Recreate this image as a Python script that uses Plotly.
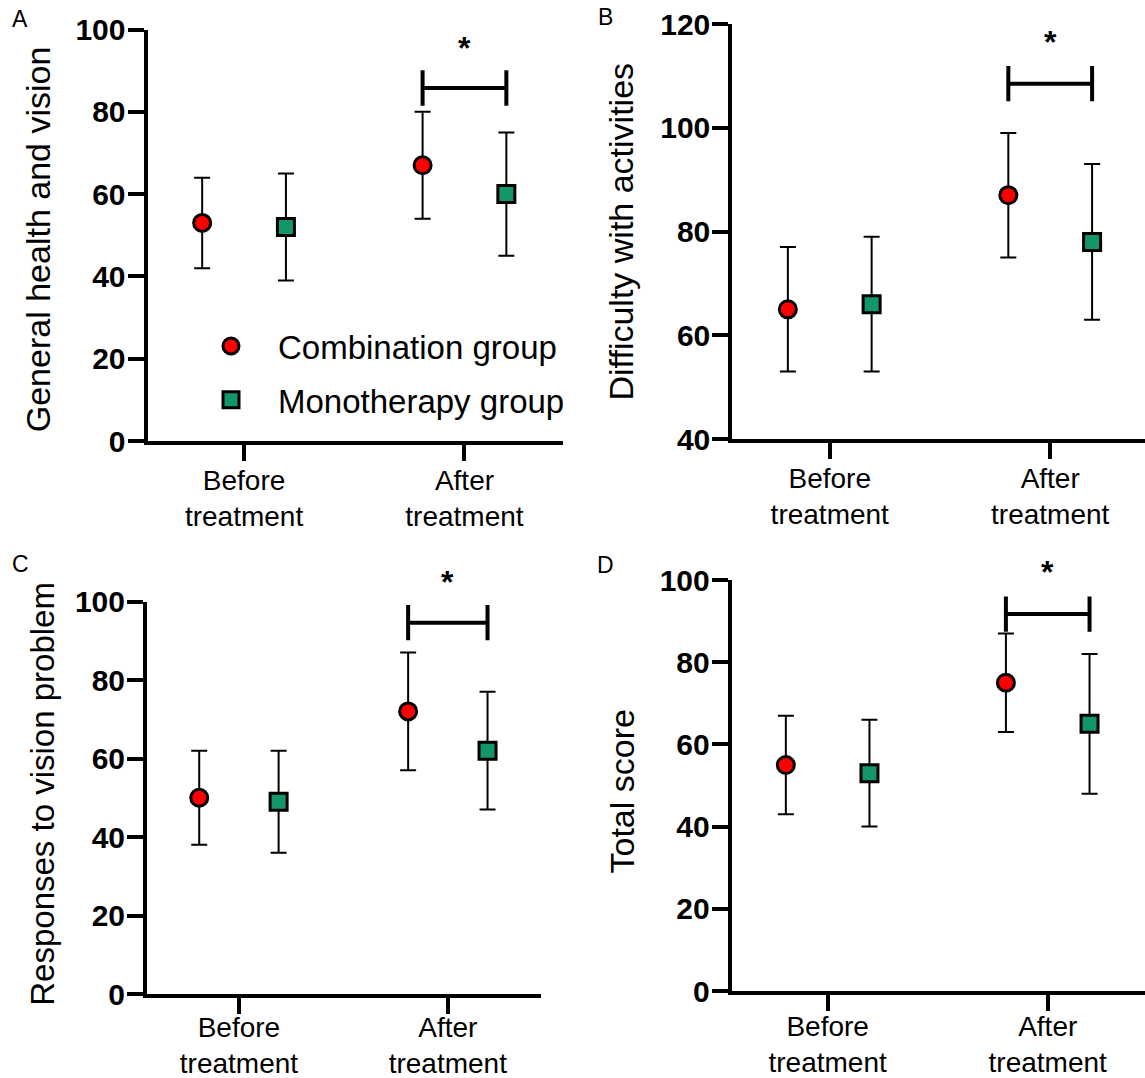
import plotly.graph_objects as go

# ---------------- data ----------------
categories = ["Before<br>treatment", "After<br>treatment"]
groups = ["Combination group", "Monotherapy group"]

panel_letters = ["A", "B", "C", "D"]
y_titles = ["General health and vision", "Difficulty with activities",
            "Responses to vision problem", "Total score"]

# means and error-bar ends (lower, upper) per panel, [Before, After]
comb_mean = {"A": [53, 67], "B": [65, 87], "C": [50, 72], "D": [55, 75]}
comb_low = {"A": [42, 54], "B": [53, 75], "C": [38, 57], "D": [43, 63]}
comb_high = {"A": [64, 80], "B": [77, 99], "C": [62, 87], "D": [67, 87]}

mono_mean = {"A": [52, 60], "B": [66, 78], "C": [49, 62], "D": [53, 65]}
mono_low = {"A": [39, 45], "B": [53, 63], "C": [36, 47], "D": [40, 48]}
mono_high = {"A": [65, 75], "B": [79, 93], "C": [62, 77], "D": [66, 82]}

y_ranges = {"A": [0, 100], "B": [40, 120], "C": [0, 100], "D": [0, 100]}
sig_label = "*"

# ---------------- layout constants (pixels of the 1145x1078 page) ----------------
W, H = 1145, 1078
geom = {
    "A": dict(x0=147.5, x1=563, yt=29.5, yb=441, xr=[-0.438, 1.447], xstand=-5, tsize=34, tdy=4),
    "B": dict(x0=732.3, x1=1145, yt=24, yb=439, xr=[-0.442, 1.430], xstand=-5, tsize=34, tdy=0),
    "C": dict(x0=147, x1=541, yt=601.5, yb=994, xr=[-0.44, 1.446], xstand=-11, tsize=33, tdy=-4),
    "D": dict(x0=731.7, x1=1145, yt=580, yb=991, xr=[-0.436, 1.442], xstand=-9, tsize=34, tdy=6),
}
# significance bracket: (bar level, half height of end ticks, star centre) in data units
bracket = {"A": (85.8, 4.3, 97.0), "B": (108.5, 3.4, 117.6),
           "C": (94.6, 4.5, 106.6), "D": (91.7, 4.3, 103.4)}
letter_pos = {"A": (20, 19), "B": (605, 17), "C": (20, 564), "D": (605, 565)}
title_x = {"A": 38, "B": 621, "C": 43, "D": 621}

offset = 0.19
RED = "#FF0000"
GREEN = "#12966A"
FONT = "Arial, Liberation Sans, sans-serif"

fig = go.Figure()
annotations = []

for i, p in enumerate(panel_letters):
    xa = "x" if i == 0 else f"x{i+1}"
    ya = "y" if i == 0 else f"y{i+1}"
    series = [
        (groups[0], comb_mean[p], comb_low[p], comb_high[p], -offset, "circle", RED),
        (groups[1], mono_mean[p], mono_low[p], mono_high[p], offset, "square", GREEN),
    ]
    for name, mean, low, high, off, sym, col in series:
        xs = [k + off for k in range(len(categories))]
        fig.add_trace(go.Scatter(
            x=xs, y=mean, mode="markers", name=name,
            legendgroup=name, showlegend=(i == 0),
            marker=dict(symbol=sym, size=17, color=col,
                        line=dict(color="black", width=3)),
            error_y=dict(type="data", symmetric=False,
                         array=[h - m for h, m in zip(high, mean)],
                         arrayminus=[m - l for m, l in zip(mean, low)],
                         color="black", thickness=2, width=8),
            xaxis=xa, yaxis=ya, cliponaxis=False,
        ))
    # significance bracket between the two "After" points
    lvl, hh, star = bracket[p]
    xl, xr_ = 1 - offset, 1 + offset
    fig.add_trace(go.Scatter(
        x=[xl, xl, None, xl, xr_, None, xr_, xr_],
        y=[lvl + hh, lvl - hh, None, lvl, lvl, None, lvl + hh, lvl - hh],
        mode="lines", line=dict(color="black", width=4),
        showlegend=False, hoverinfo="skip", xaxis=xa, yaxis=ya, cliponaxis=False,
    ))
    r0, r1 = y_ranges[p]
    annotations.append(dict(
        x=1, xref=xa, y=(star - r0) / (r1 - r0), yref=f"{ya} domain",
        text=f"<b>{sig_label}</b>", showarrow=False,
        font=dict(family=FONT, size=32, color="black"), xanchor="center",
        yanchor="middle", yshift=-6,
    ))
    g = geom[p]
    lx, ly = letter_pos[p]
    annotations.append(dict(
        x=lx / W, y=1 - ly / H, xref="paper", yref="paper", text=p, showarrow=False,
        font=dict(family=FONT, size=23, color="black"), xanchor="center", yanchor="middle",
    ))
    annotations.append(dict(
        x=title_x[p] / W, y=1 - ((g["yt"] + g["yb"]) / 2 + g["tdy"]) / H,
        xref="paper", yref="paper",
        text=y_titles[i], showarrow=False, textangle=-90,
        font=dict(family=FONT, size=g["tsize"], color="black"),
        xanchor="center", yanchor="middle",
    ))

    axis_common = dict(showline=True, linewidth=4, linecolor="black", ticks="outside",
                       ticklen=16, tickwidth=4, tickcolor="black", showgrid=False,
                       zeroline=False, automargin=False)
    xkey = "xaxis" if i == 0 else f"xaxis{i+1}"
    ykey = "yaxis" if i == 0 else f"yaxis{i+1}"
    fig.update_layout(**{
        xkey: dict(axis_common, domain=[g["x0"] / W, g["x1"] / W], range=g["xr"],
                   anchor=ya, tickmode="array", tickvals=list(range(len(categories))),
                   ticktext=categories, ticklabelstandoff=g["xstand"],
                   tickfont=dict(family=FONT, size=28, color="black")),
        ykey: dict(axis_common, domain=[1 - g["yb"] / H, 1 - g["yt"] / H],
                   range=y_ranges[p], anchor=xa, dtick=20, tickformat="d",
                   tickprefix="<b>", ticksuffix="</b>", ticklabelstandoff=-4,
                   tickfont=dict(family=FONT, size=30, color="black")),
    })

fig.update_layout(
    width=W, height=H, margin=dict(l=0, r=0, t=0, b=0, autoexpand=False),
    plot_bgcolor="white", paper_bgcolor="white",
    annotations=annotations,
    showlegend=True,
    legend=dict(x=184 / W, y=1 - 318 / H, xanchor="left", yanchor="top",
                bgcolor="rgba(0,0,0,0)", font=dict(family=FONT, size=33, color="black"),
                itemsizing="trace", itemwidth=84, tracegroupgap=8, traceorder="grouped"),
)

fig.write_html("out.html")
